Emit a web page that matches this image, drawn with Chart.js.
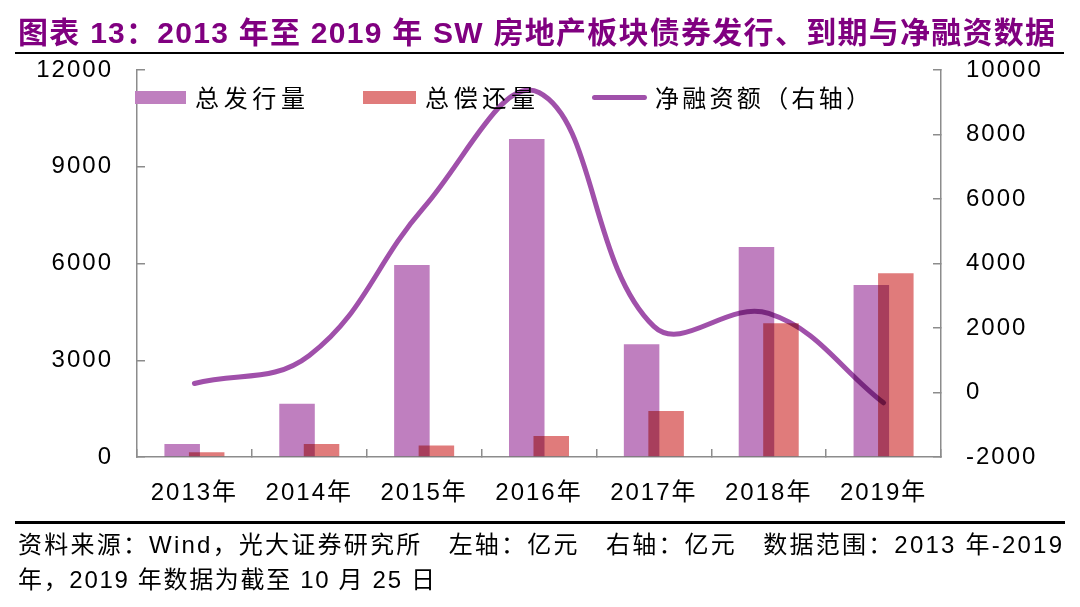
<!DOCTYPE html>
<html><head><meta charset="utf-8">
<script src="https://cdn.jsdelivr.net/npm/chart.js@4.4.0/dist/chart.umd.min.js"></script>
<style>
html,body{margin:0;padding:0;background:#fff;}
#wrap{position:relative;width:1080px;height:607px;overflow:hidden;background:#fff;}
#c{position:absolute;left:0;top:0;}
.t{position:absolute;white-space:nowrap;display:inline-block;}
#title{left:18px;top:14px;font:bold 30px "Liberation Sans","Noto Sans CJK SC",sans-serif;color:#800080;line-height:38px;}
.rule{position:absolute;background:#000;}
.foot{font:24px "Liberation Sans Narrow","Liberation Sans","Noto Sans CJK SC",sans-serif;color:#000;line-height:30px;left:18px;}
.leg{font:24px "Noto Sans CJK SC",sans-serif;color:#000;line-height:30px;top:82px;}
.box{position:absolute;}
</style></head>
<body>
<div id="wrap">
  <canvas id="c" width="1080" height="607"></canvas>
  <div id="title" class="t" data-w="1037">图表 13：2013 年至 2019 年 SW 房地产板块债券发行、到期与净融资数据</div>
  <div class="rule" style="left:15px;top:52px;width:1049px;height:2px;"></div>
  <div class="box" style="left:135px;top:91px;width:51px;height:13px;background:#BF7FBF;"></div>
  <div class="t leg" style="left:195px;" data-w="110">总发行量</div>
  <div class="box" style="left:363px;top:91px;width:53px;height:13px;background:#E07B7B;"></div>
  <div class="t leg" style="left:425px;" data-w="110">总偿还量</div>
  <div class="box" style="left:592px;top:95px;width:55px;height:5px;background:#A050AA;border-radius:3px;"></div>
  <div class="t leg" style="left:655px;" data-w="215">净融资额（右轴）</div>
  <div class="rule" style="left:15px;top:521px;width:1050px;height:3px;"></div>
  <div class="t foot" style="top:530px;" data-w="1044">资料来源：Wind，光大证券研究所　左轴：亿元　右轴：亿元　数据范围：2013 年-2019</div>
  <div class="t foot" style="top:565px;" data-w="417">年，2019 年数据为截至 10 月 25 日</div>
</div>
<script>
const categories = ['2013年','2014年','2015年','2016年','2017年','2018年','2019年'];
const issuance = [400, 1650, 5950, 9860, 3500, 6510, 5330];
const repayment = [150, 400, 360, 650, 1430, 4150, 5700];
const netFinancing = [280, 1150, 5750, 9300, 2050, 2450, -320];
const leftTicks = [0, 3000, 6000, 9000, 12000];
const rightTicks = [-2000, 0, 2000, 4000, 6000, 8000, 10000];

function fitText(el, target){
  el.style.letterSpacing = '0px';
  const w = el.getBoundingClientRect().width;
  const n = [...el.textContent].length;
  el.style.letterSpacing = ((target - w) / (n - 1)) + 'px';
}
document.querySelectorAll('[data-w]').forEach(el => fitText(el, +el.dataset.w));

const blend = {
  id: 'blend',
  beforeDatasetDraw(chart){ chart.ctx.save(); chart.ctx.globalCompositeOperation = 'multiply'; },
  afterDatasetDraw(chart){ chart.ctx.restore(); }
};
const spacing = {
  id: 'spacing',
  beforeDraw(chart){ chart.ctx.letterSpacing = '2px'; },
  afterDraw(chart){ chart.ctx.letterSpacing = '0px'; }
};

const tickFont = {family: "'Liberation Sans','Noto Sans CJK SC',sans-serif", size: 24};
const axisColor = '#8c8c8c';
const plain = v => String(v);

new Chart(document.getElementById('c'), {
  type: 'bar',
  data: {
    labels: categories,
    datasets: [
      {type:'line', label:'净融资额（右轴）', data: netFinancing, yAxisID:'y1', order:0,
       borderColor:'#A050AA', borderWidth:5, tension:0.4, pointRadius:0, borderCapStyle:'round', fill:false},
      {type:'bar', label:'总发行量', data: issuance, yAxisID:'y', order:1,
       backgroundColor:'#BF7FBF', categoryPercentage:0.4266, barPercentage:1.45},
      {type:'bar', label:'总偿还量', data: repayment, yAxisID:'y', order:1,
       backgroundColor:'#E07B7B', categoryPercentage:0.4266, barPercentage:1.45}
    ]
  },
  options: {
    responsive:false, animation:false, devicePixelRatio:1,
    layout:{padding:{left:0,right:0,top:70,bottom:90}},
    plugins:{legend:{display:false}, tooltip:{enabled:false}},
    scales:{
      x:{
        grid:{drawOnChartArea:false, tickLength:-8, color:axisColor, lineWidth:1.5},
        border:{color:axisColor, width:1.5},
        ticks:{font:tickFont, color:'#000', padding:30, maxRotation:0},
        afterFit(s){ s.height = 60; }
      },
      y:{
        position:'left', min:0, max:12000,
        afterBuildTicks(s){ s.ticks = leftTicks.map(v=>({value:v})); },
        grid:{drawOnChartArea:false, tickLength:-8, color:axisColor, lineWidth:1.5},
        border:{color:axisColor, width:1.5},
        ticks:{font:tickFont, color:'#000', padding:32, callback: plain},
        afterFit(s){ s.width = 137; }
      },
      y1:{
        position:'right', min:-2000, max:10000,
        afterBuildTicks(s){ s.ticks = rightTicks.map(v=>({value:v})); },
        grid:{drawOnChartArea:false, tickLength:-8, color:axisColor, lineWidth:1.5},
        border:{color:axisColor, width:1.5},
        ticks:{font:tickFont, color:'#000', padding:33, callback: plain},
        afterFit(s){ s.width = 139; }
      }
    }
  },
  plugins:[blend, spacing]
});
</script>
</body></html>
